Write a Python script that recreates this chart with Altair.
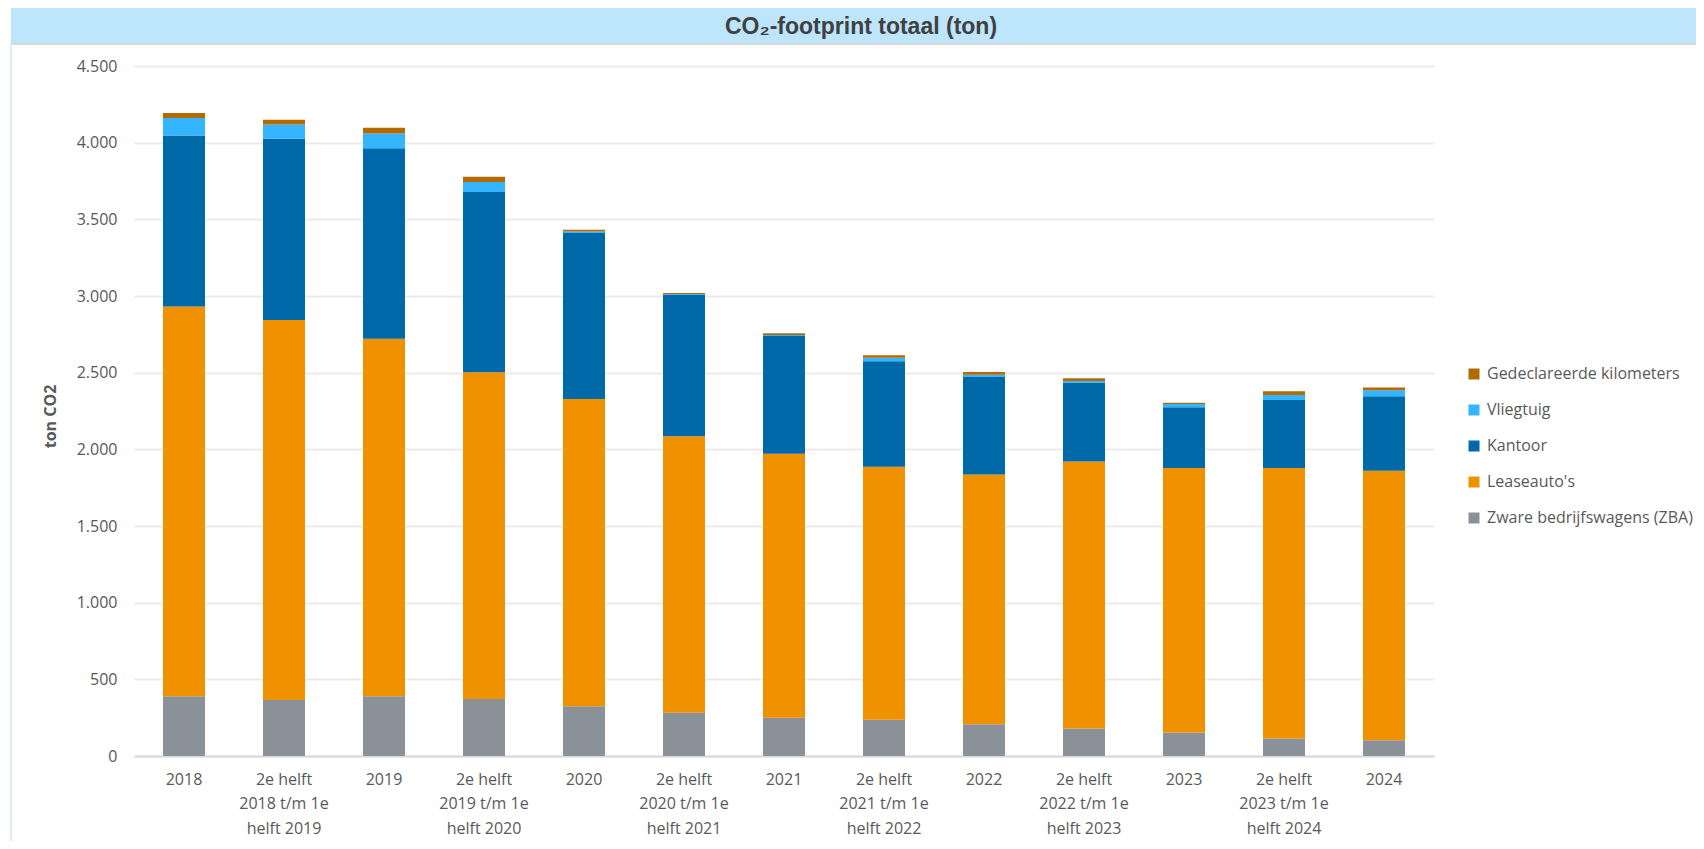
import altair as alt
import pandas as pd

categories = [
    "2018",
    "2e helft|2018 t/m 1e|helft 2019",
    "2019",
    "2e helft|2019 t/m 1e|helft 2020",
    "2020",
    "2e helft|2020 t/m 1e|helft 2021",
    "2021",
    "2e helft|2021 t/m 1e|helft 2022",
    "2022",
    "2e helft|2022 t/m 1e|helft 2023",
    "2023",
    "2e helft|2023 t/m 1e|helft 2024",
    "2024",
]

series = [
    "Zware bedrijfswagens (ZBA)",
    "Leaseauto's",
    "Kantoor",
    "Vliegtuig",
    "Gedeclareerde kilometers",
]

zba = [390, 366, 390, 372, 324, 282, 249, 237, 207, 180, 153, 114, 102]
lease = [2541, 2478, 2331, 2130, 2004, 1803, 1722, 1650, 1629, 1740, 1725, 1764, 1758]
kantoor = [1116, 1182, 1242, 1176, 1083, 924, 768, 687, 636, 516, 396, 444, 486]
vliegtuig = [114, 93, 96, 66, 9, 4, 6, 24, 15, 9, 21, 33, 39]
gedeclareerd = [33, 30, 39, 33, 12, 6, 12, 15, 18, 18, 9, 24, 18]

series_colors = ["#8A9199", "#F09100", "#0069AA", "#35B4FF", "#B36A00"]

rows = []
for i, cat in enumerate(categories):
    for j, (name, vals) in enumerate(zip(series, [zba, lease, kantoor, vliegtuig, gedeclareerd])):
        rows.append({"cat": cat, "series": name, "value": vals[i], "order": j})
df = pd.DataFrame(rows)

legend_order = list(reversed(series))
legend_colors = list(reversed(series_colors))

FONT = "Open Sans"
GREY = "#595959"

bars = alt.Chart(df).mark_bar().encode(
    x=alt.X(
        "cat:N",
        sort=categories,
        title=None,
        scale=alt.Scale(paddingInner=0.58, paddingOuter=0.29),
        axis=alt.Axis(
            labelExpr="split(datum.label, '|')",
            labelAngle=0,
            labelFont=FONT,
            labelFontSize=16,
            labelColor=GREY,
            labelLineHeight=24.5,
            labelPadding=15,
            ticks=False,
            domainColor="#D9D9D9",
            domainWidth=2,
            labelLimit=300,
        ),
    ),
    y=alt.Y(
        "value:Q",
        stack="zero",
        scale=alt.Scale(domain=[0, 4500], nice=False),
        axis=alt.Axis(
            values=list(range(0, 4501, 500)),
            labelExpr="replace(format(datum.value, ','), ',', '.')",
            labelFont=FONT,
            labelFontSize=16,
            labelColor=GREY,
            labelPadding=17,
            ticks=False,
            domain=False,
            gridColor="#EBEBEB",
            gridWidth=2,
            title="ton CO2",
            titleFont=FONT,
            titleFontSize=16,
            titleFontWeight="bold",
            titleColor=GREY,
            titleX=-76,
            titleY=350,
        ),
    ),
    color=alt.Color(
        "series:N",
        scale=alt.Scale(domain=legend_order, range=legend_colors),
        legend=alt.Legend(
            title=None,
            orient="none",
            legendX=1332,
            legendY=300,
            symbolType="square",
            symbolSize=121,
            symbolStrokeWidth=0,
            labelFont=FONT,
            labelFontSize=16,
            labelColor=GREY,
            labelLimit=400,
            rowPadding=20,
            labelOffset=5,
        ),
    ),
    order=alt.Order("order:Q", sort="ascending"),
)

deco = alt.Data(values=[{"a": 1}])

band = alt.Chart(deco).mark_rect(color="#BDE5FB").encode(
    x=alt.value(-123), x2=alt.value(1570), y=alt.value(-58), y2=alt.value(-23)
)
underline = alt.Chart(deco).mark_rule(color="#D9D9D9", strokeWidth=2).encode(
    x=alt.value(-123), x2=alt.value(1570), y=alt.value(-22)
)
border = alt.Chart(deco).mark_rule(color="#D3EAF8", strokeWidth=1.5).encode(
    x=alt.value(-123), y=alt.value(-23), y2=alt.value(790)
)
title_text = alt.Chart(deco).mark_text(
    font="Liberation Sans", fontSize=23, fontWeight="bold", color="#404040", baseline="middle", align="center"
).encode(
    x=alt.value(727), y=alt.value(-39), text=alt.value("CO₂-footprint totaal (ton)")
)

chart = alt.layer(band, underline, border, title_text, bars).properties(
    width=1300,
    height=690,
    autosize=alt.AutoSizeParams(type="none"),
    padding={"left": 126, "top": 58, "right": 262, "bottom": 85},
).configure_view(stroke=None)

chart.save("out.html", embed_options={"renderer": "svg", "actions": False})
